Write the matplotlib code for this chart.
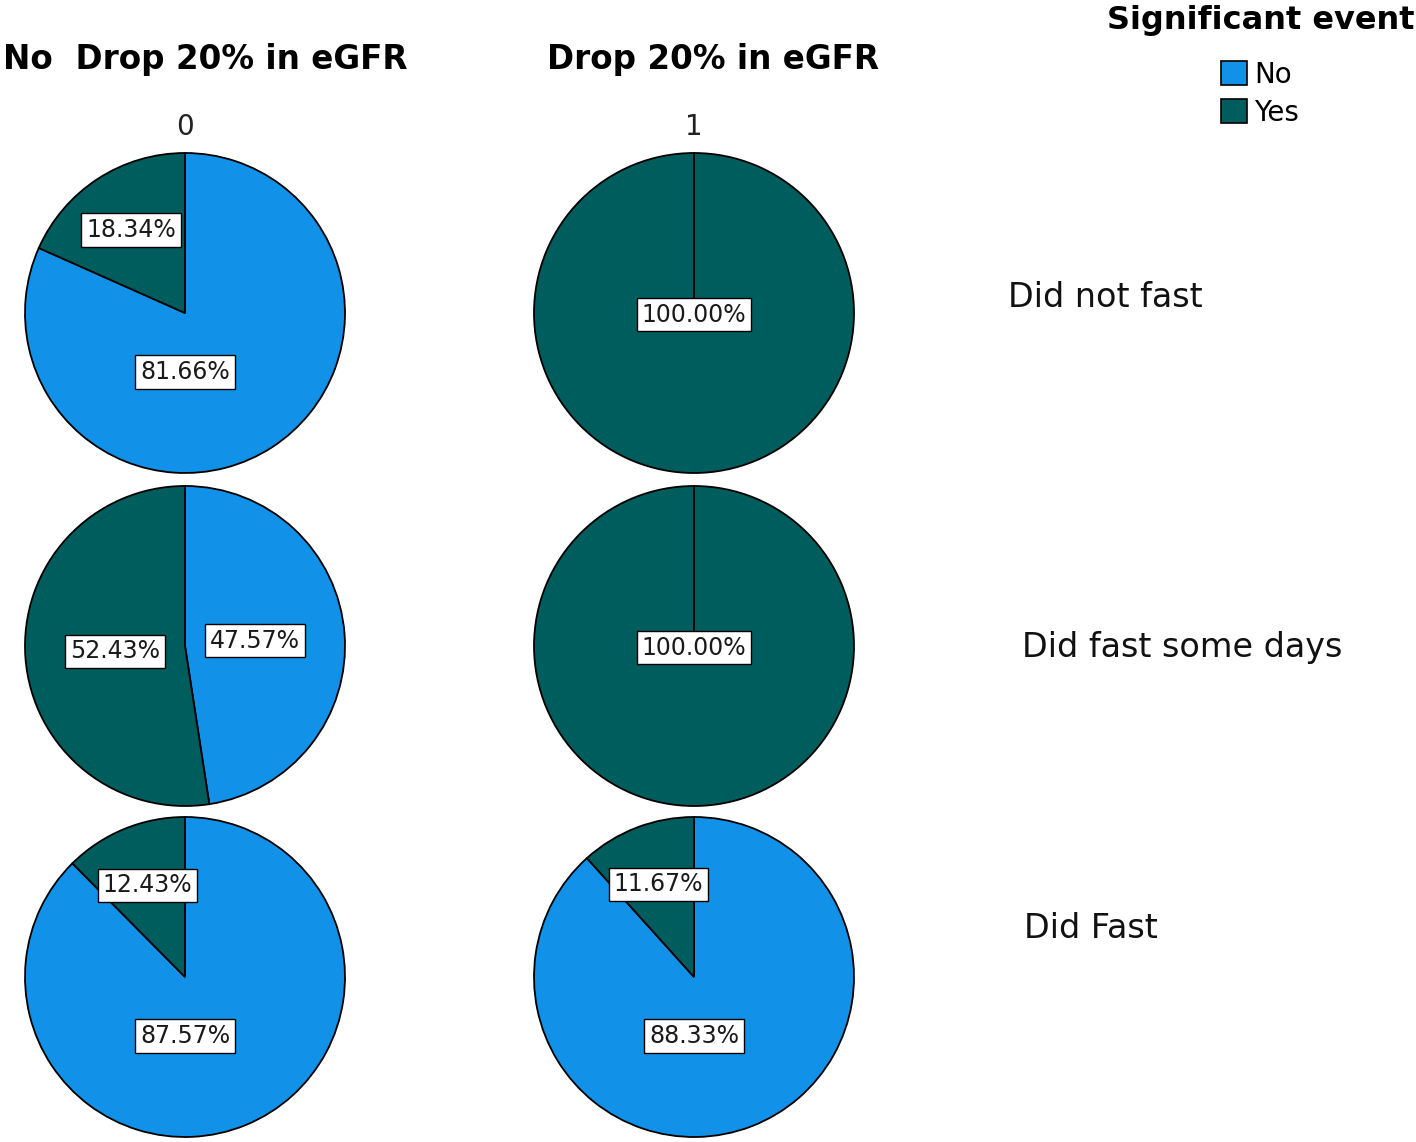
import numpy as np
import matplotlib
matplotlib.use('Agg')
import matplotlib.pyplot as plt
from matplotlib.patches import Patch

# data: % of "Significant event" (No / Yes) per fasting group and eGFR drop
col_titles = ["No  Drop 20% in eGFR", "Drop 20% in eGFR"]
col_codes = ["0", "1"]
row_labels = ["Did not fast", "Did fast some days", "Did Fast"]
event_labels = ["No", "Yes"]
pct_no = [[81.66, 0.0], [47.57, 0.0], [87.57, 88.33]]
pct_yes = [[18.34, 100.0], [52.43, 100.0], [12.43, 11.67]]

colors = ["#1192e8", "#005d5d"]

W, H = 1416, 1142
plt.rcParams['font.family'] = ['DejaVu Sans']
fig = plt.figure(figsize=(W / 100, H / 100), dpi=100)

# layout in pixels
col_x = [185, 694]
row_y = [313, 646, 977]
R = 160
START = 90


def fx(x):
    return x / W


def fy(y):
    return 1 - y / H


def label_xy(theta1, theta2, frac):
    """SPSS-like label placement inside a wedge."""
    if frac >= 0.999:
        return 0.0, -0.01
    if frac > 0.6:
        return 0.0, -0.37
    mid = np.deg2rad((theta1 + theta2) / 2)
    r = 0.62 if frac < 0.25 else 0.44
    return r * np.cos(mid), r * np.sin(mid)


half = R + 6
for i, cy in enumerate(row_y):
    for j, cx in enumerate(col_x):
        ax = fig.add_axes([fx(cx - half), fy(cy + half), 2 * half / W, 2 * half / H])
        vals = [pct_no[i][j], pct_yes[i][j]]
        ax.pie(vals, colors=colors, startangle=START, counterclock=False, radius=1,
               wedgeprops=dict(edgecolor="black", linewidth=1.3))
        lim = half / R
        ax.set_xlim(-lim, lim)
        ax.set_ylim(-lim, lim)
        ax.set_aspect('equal')
        ax.axis('off')
        total = sum(vals)
        start = 0.0
        for v in vals:
            frac = v / total
            t1 = START - start * 360
            if v == 0:
                # empty slice still leaves its radial edge in SPSS
                a = np.deg2rad(t1)
                ax.plot([0, np.cos(a)], [0, np.sin(a)], color="black", lw=1.3)
            else:
                t2 = START - (start + frac) * 360
                lx, ly = label_xy(t1, t2, frac)
                ax.text(lx, ly, f"{v:.2f}%", ha="center", va="center", fontsize=17,
                        color="#1a1a1a",
                        bbox=dict(boxstyle="square,pad=0.2", facecolor="white",
                                  edgecolor="black", linewidth=1.0))
            start += frac

# column headers
fig.text(fx(3), fy(60), col_titles[0], ha="left", va="center", fontsize=23.5, fontweight="bold")
fig.text(fx(713), fy(60), col_titles[1], ha="center", va="center", fontsize=23.5, fontweight="bold")
for j, cx in enumerate(col_x):
    fig.text(fx(cx), fy(127), col_codes[j], ha="center", va="center", fontsize=20, color="#222222")

# row labels
row_label_pos = [(1008, 297), (1022, 647), (1024, 928)]
for lab, (x, y) in zip(row_labels, row_label_pos):
    fig.text(fx(x), fy(y), lab, ha="left", va="center", fontsize=24, color="#111111")

# legend
fig.text(fx(1261), fy(21), "Significant event", ha="center", va="center",
         fontsize=23, fontweight="bold")
handles = [Patch(facecolor=c, edgecolor="black", linewidth=1.2) for c in colors]
leg = fig.legend(handles, event_labels, loc="upper center",
                 bbox_to_anchor=(fx(1260), fy(47)), frameon=False, fontsize=20,
                 handlelength=0.95, handleheight=0.95, handletextpad=0.25,
                 labelspacing=0.35, borderpad=0.0)

fig.savefig("out.png", dpi=100)
